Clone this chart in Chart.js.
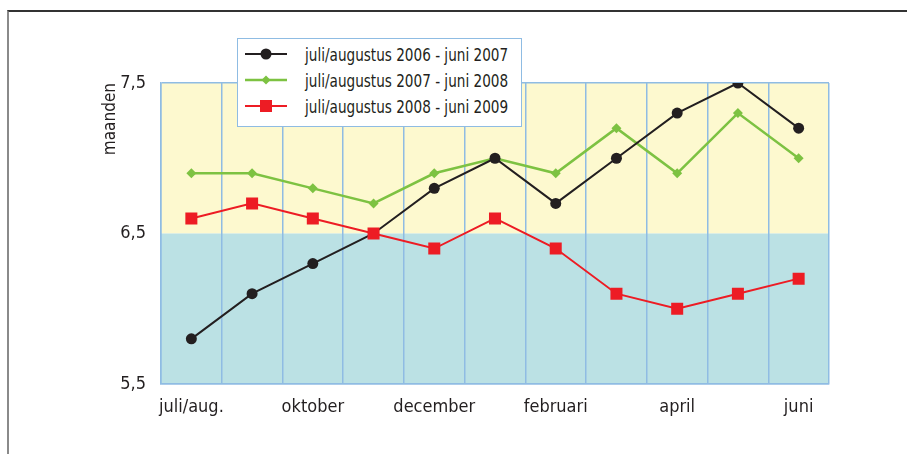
<!DOCTYPE html>
<html>
<head>
<meta charset="utf-8">
<script src="https://cdn.jsdelivr.net/npm/chart.js@4/dist/chart.umd.min.js"></script>
<style>
  html, body { margin: 0; padding: 0; background: #fff; }
  #wrap { position: relative; width: 907px; height: 454px; overflow: hidden; }
  #frame { position: absolute; left: 7px; top: 10px; width: 905px; height: 450px;
           border-top: 2px solid #333; border-left: 2px solid #8a8a8a; box-sizing: border-box; }
  canvas { position: absolute; left: 0; top: 0; }
  #legend { position: absolute; left: 237px; top: 38px; width: 285px; height: 89px;
            box-sizing: border-box; border: 1px solid #8fbce3; background: #fff;
            font-family: "DejaVu Sans Condensed", "Liberation Sans Narrow", sans-serif;
            font-size: 18px; color: #231f20; padding-top: 2px; white-space: nowrap; }
  .row { display: flex; align-items: center; height: 26px; }
  .row svg { margin-left: 7px; margin-right: 18px; flex: none; }
  .row span { display: inline-block; transform: scaleX(0.84); transform-origin: 0 50%; }
</style>
</head>
<body>
<div id="wrap">
  <div id="frame"></div>
  <canvas id="c" width="907" height="454"></canvas>
  <div id="legend"></div>
</div>
<script>
const categories = ["juli/aug.", "september", "oktober", "november", "december", "januari", "februari", "maart", "april", "mei", "juni"];
const seriesNames = ["juli/augustus 2006 - juni 2007", "juli/augustus 2007 - juni 2008", "juli/augustus 2008 - juni 2009"];
const values2006 = [5.8, 6.1, 6.3, 6.5, 6.8, 7.0, 6.7, 7.0, 7.3, 7.5, 7.2];
const values2007 = [6.9, 6.9, 6.8, 6.7, 6.9, 7.0, 6.9, 7.2, 6.9, 7.3, 7.0];
const values2008 = [6.6, 6.7, 6.6, 6.5, 6.4, 6.6, 6.4, 6.1, 6.0, 6.1, 6.2];
const yTicks = [5.5, 6.5, 7.5];
const splitValue = 6.5;

const FONT = '"DejaVu Sans Condensed", "Liberation Sans Narrow", sans-serif';
const TEXT = '#231f20';
const GRID = '#8fbce3';

const bgPlugin = {
  id: 'bands',
  beforeDraw(chart) {
    const {ctx, chartArea: a, scales: {y}} = chart;
    const ys = y.getPixelForValue(splitValue);
    ctx.save();
    ctx.fillStyle = '#fdf9cf';
    ctx.fillRect(a.left, a.top, a.right - a.left, ys - a.top);
    ctx.fillStyle = '#bbe1e4';
    ctx.fillRect(a.left, ys, a.right - a.left, a.bottom - ys);
    ctx.restore();
  }
};

const datasets = [
  { label: seriesNames[0], data: values2006, borderColor: '#231f20', backgroundColor: '#231f20',
    borderWidth: 2, pointStyle: 'circle', pointRadius: 5.5, order: 1 },
  { label: seriesNames[1], data: values2007, borderColor: '#7dc242', backgroundColor: '#7dc242',
    borderWidth: 2.5, pointStyle: 'rectRot', pointRadius: 5, order: 2 },
  { label: seriesNames[2], data: values2008, borderColor: '#ed1c24', backgroundColor: '#ed1c24',
    borderWidth: 2, pointStyle: 'rect', pointRadius: 8.5, order: 0 }
];
datasets.forEach(d => { d.tension = 0; d.pointBorderWidth = 0; d.pointHoverRadius = d.pointRadius; });

const chart = new Chart(document.getElementById('c'), {
  type: 'line',
  data: { labels: categories, datasets },
  plugins: [bgPlugin],
  options: {
    responsive: false,
    animation: false,
    layout: { padding: { left: 100, top: 83, right: 78, bottom: 30 } },
    plugins: { legend: { display: false }, tooltip: { enabled: false } },
    scales: {
      x: {
        type: 'category',
        offset: true,
        afterFit: s => { s.height = 40; },
        grid: { offset: true, color: GRID, lineWidth: 1.5, drawTicks: false },
        border: { color: GRID, width: 1.5 },
        ticks: {
          autoSkip: false, maxRotation: 0, padding: 13, color: TEXT,
          font: { family: FONT, size: 18 },
          callback: (v, i) => (i % 2 === 0 ? categories[i] : '')
        }
      },
      y: {
        min: 5.5, max: 7.5,
        afterFit: s => { s.width = 61; },
        afterBuildTicks: s => { s.ticks = yTicks.map(v => ({ value: v })); },
        grid: { drawTicks: false, lineWidth: 1.5,
                color: c => (c.tick && c.tick.value === splitValue ? 'rgba(0,0,0,0)' : GRID) },
        border: { color: GRID, width: 1.5 },
        title: { display: true, text: 'maanden', align: 'end', color: TEXT, padding: 0,
                 font: { family: FONT, size: 17 } },
        ticks: { padding: 15, color: TEXT, font: { family: FONT, size: 18 },
                 callback: v => String(v.toFixed(1)).replace('.', ',') }
      }
    }
  }
});

// HTML legend built from datasets
const leg = document.getElementById('legend');
datasets.forEach(d => {
  const row = document.createElement('div');
  row.className = 'row';
  let marker = '';
  if (d.pointStyle === 'circle') marker = `<circle cx="21" cy="8" r="5.5" fill="${d.borderColor}"/>`;
  else if (d.pointStyle === 'rectRot') marker = `<polygon points="21,3.5 25.5,8 21,12.5 16.5,8" fill="${d.borderColor}"/>`;
  else marker = `<rect x="15" y="2" width="12" height="12" fill="${d.borderColor}"/>`;
  row.innerHTML = `<svg width="42" height="16"><line x1="0" y1="8" x2="42" y2="8" stroke="${d.borderColor}" stroke-width="${d.borderWidth}"/>${marker}</svg><span>${d.label}</span>`;
  leg.appendChild(row);
});
</script>
</body>
</html>
